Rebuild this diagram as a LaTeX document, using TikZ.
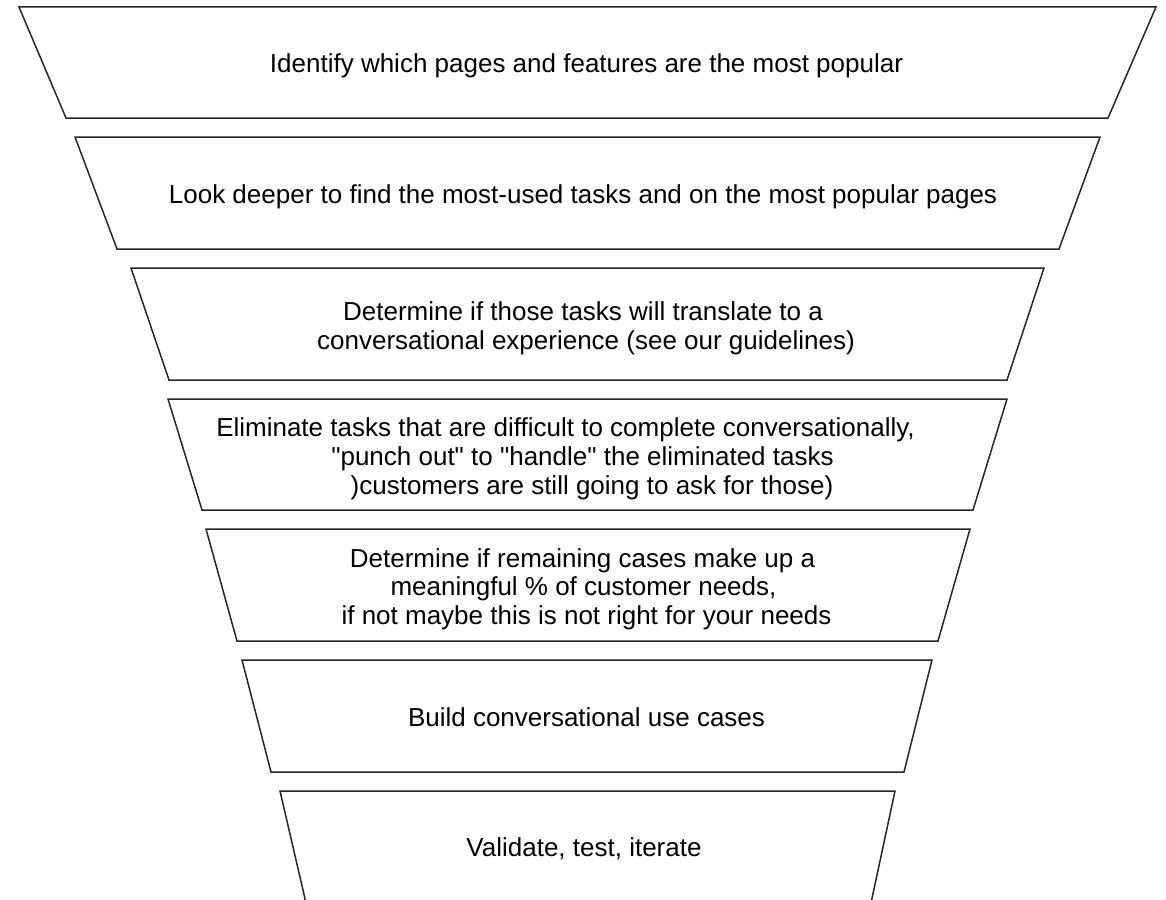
\documentclass[tikz,border=0pt]{standalone}
\usepackage{fontspec}
\setmainfont{Liberation Sans}[Ligatures=TeXOff]
\begin{document}
\begin{tikzpicture}[x=1pt,y=-1pt,
  stage/.style={draw=black!85, line width=1.5pt, line join=miter, fill=white},
  txt/.style={anchor=base, inner sep=0pt, font=\fontsize{26}{29}\selectfont}]
\useasboundingbox (0,0) rectangle (1166,899);
\clip (0,0) rectangle (1166,899);
% stages
\draw[stage] (19,7) -- (1156,7) -- (1108,118) -- (66,118) -- cycle;
\draw[stage] (75,137) -- (1100,137) -- (1059,249) -- (117,249) -- cycle;
\draw[stage] (131,268) -- (1044,268) -- (1007,380) -- (169,380) -- cycle;
\draw[stage] (168,399) -- (1007,399) -- (973,510) -- (202,510) -- cycle;
\draw[stage] (206,529) -- (970,529) -- (938,641) -- (237,641) -- cycle;
\draw[stage] (242,660) -- (932,660) -- (904,772) -- (271,772) -- cycle;
\draw[stage] (280,791) -- (895,791) -- (871,903) -- (306,903) -- cycle;
% texts
\node[txt] (t1) at (586.5,73) {Identify which pages and features are the most popular};
\node[txt] (t2) at (583,203) {Look deeper to find the most-used tasks and on the most popular pages};
\node[txt] (t3a) at (583,320) {Determine if those tasks will translate to a};
\node[txt] (t3b) at (586,349) {conversational experience (see our guidelines)};
\node[txt] (t4a) at (565.5,436.5) {Eliminate tasks that are difficult to complete conversationally,};
\node[txt] (t4b) at (582.5,465) {"punch out" to "handle" the eliminated tasks};
\node[txt] (t4c) at (592,494) {)customers are still going to ask for those)};
\node[txt] (t5a) at (582.5,567) {Determine if remaining cases make up a};
\node[txt] (t5b) at (583.5,595.5) {meaningful \% of customer needs,};
\node[txt] (t5c) at (586.5,624) {if not maybe this is not right for your needs};
\node[txt] (t6) at (586.5,726.5) {Build conversational use cases};
\node[txt] (t7) at (584,856.5) {Validate, test, iterate};
\end{tikzpicture}
\end{document}
